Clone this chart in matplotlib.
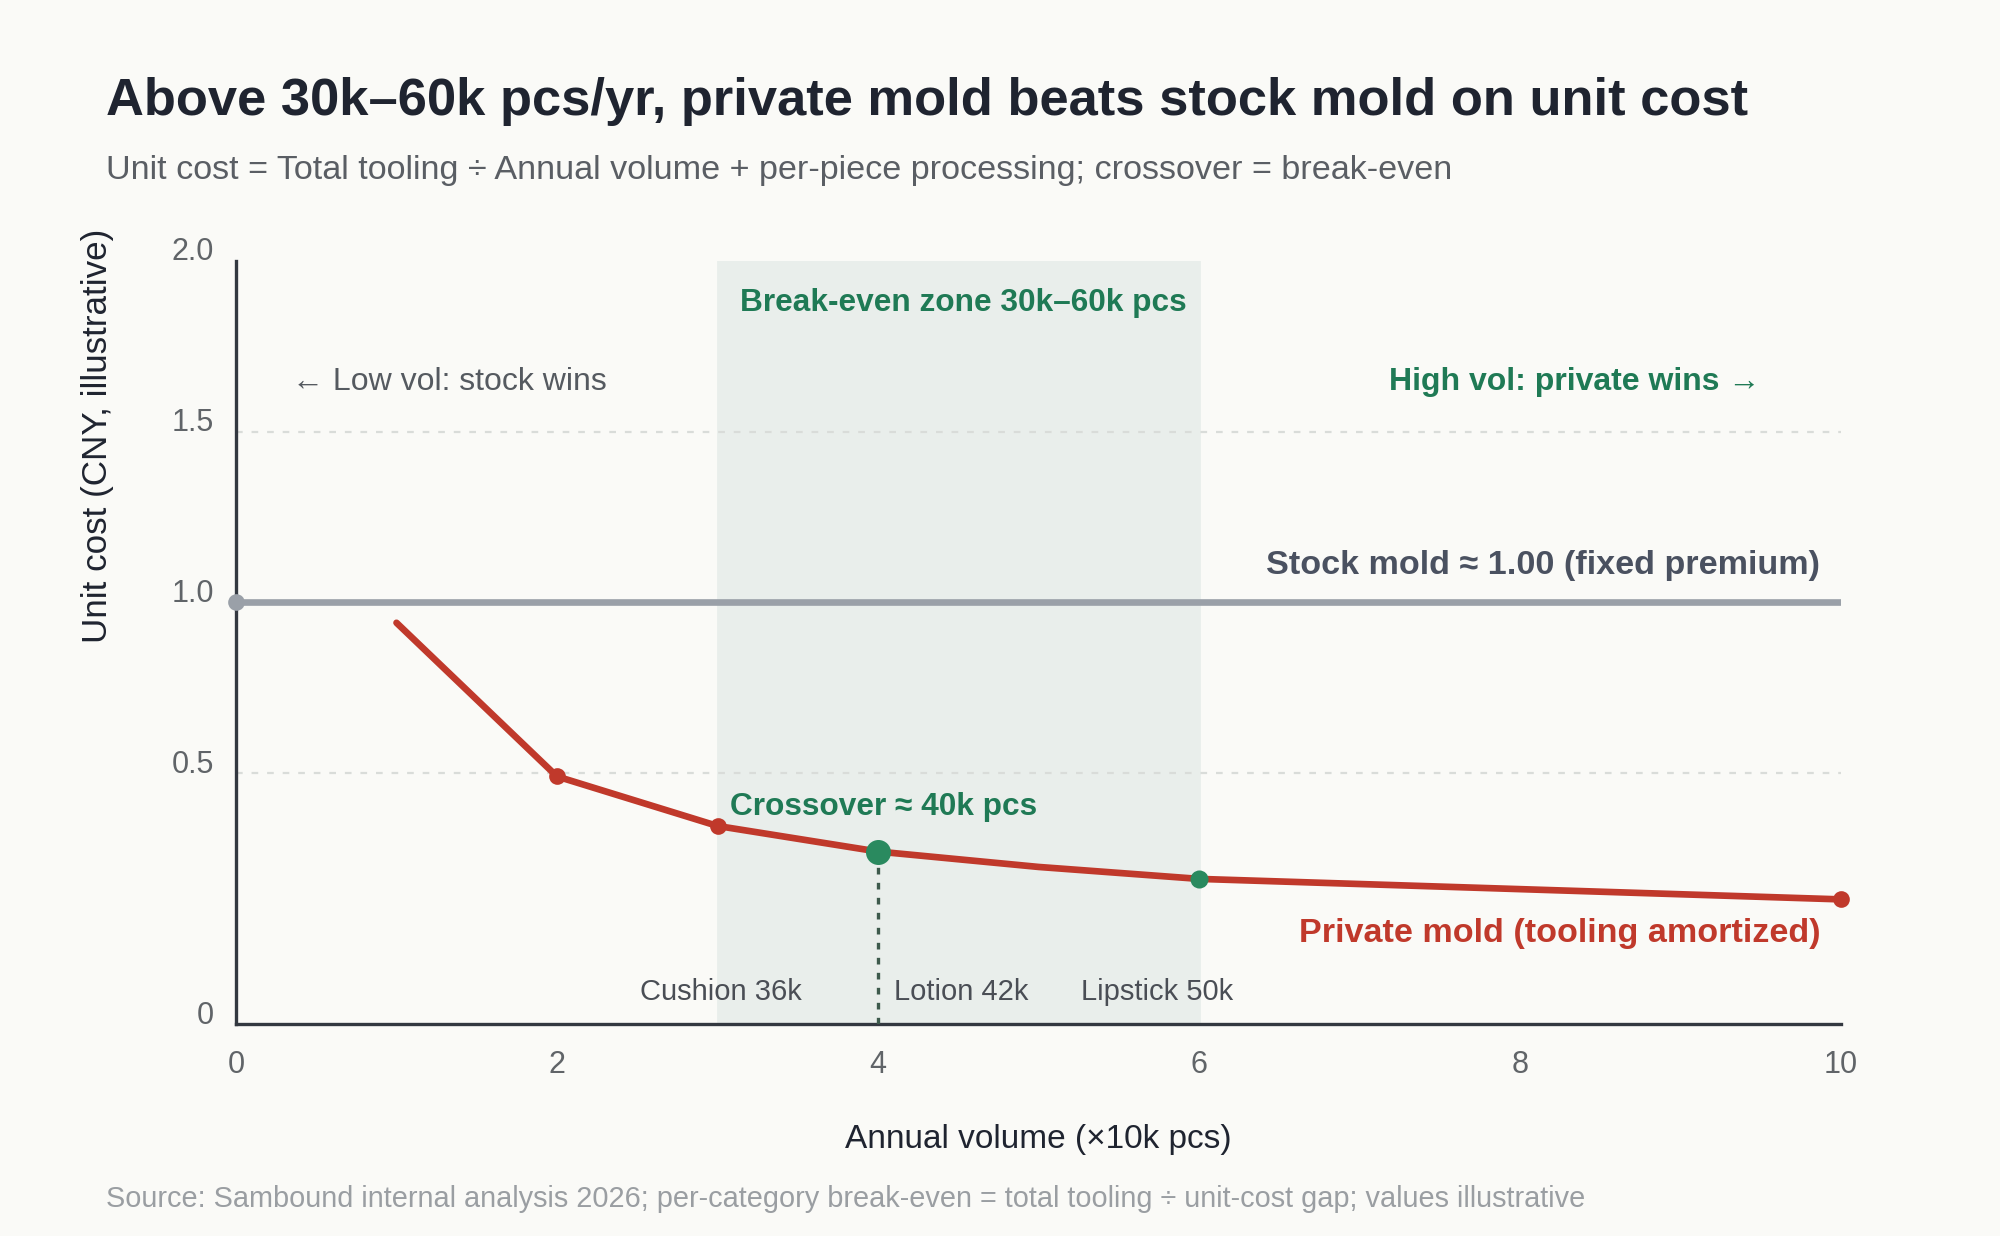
import numpy as np
import matplotlib.pyplot as plt
import matplotlib.transforms as mtransforms

plt.rcParams['font.family'] = ['Liberation Sans', 'DejaVu Sans']

# data
volume = [1, 2, 3, 4, 5, 6, 8, 10]            # x10k pcs / yr
private_cost = [0.94, 0.49, 0.345, 0.27, 0.225, 0.19, 0.16, 0.13]
stock_volume = [0, 10]
stock_cost = [1.0, 1.0]
zone = [3, 6]                                  # break-even zone
crossover_x = 4
crossover_y = 0.27
red_marker_x = [2, 3, 10]
green_marker_x = [6]
categories = ['Cushion 36k', 'Lotion 42k', 'Lipstick 50k']
category_label_x = [3.02, 4.52, 5.74]

y_bottom = -0.235
y_ticks = [y_bottom, 0.5, 1.0, 1.5, 2.0]
y_tick_labels = ['0', '0.5', '1.0', '1.5', '2.0']
x_ticks = [0, 2, 4, 6, 8, 10]

bg = '#fafaf7'
green = '#1f7a55'
red = '#c0392b'
grey_line = '#9aa0a8'
dark = '#1f2430'

fig = plt.figure(figsize=(10, 6.18), dpi=200, facecolor=bg)
ax = fig.add_axes([0.118, 0.1715, 0.8025, 0.6175])
ax.set_facecolor(bg)

ax.set_xlim(0, 10)
ax.set_ylim(y_bottom, 2.0)

# break-even zone
ax.axvspan(zone[0], zone[1], color='#e9eeeb', zorder=0)

# grid lines
for g in [0.5, 1.5]:
    ax.axhline(g, color='#d9dcd9', lw=0.8, ls=(0, (3, 4)), zorder=1)

# stock mold line
ax.plot(stock_volume, stock_cost, color=grey_line, lw=2.4, zorder=3)
ax.plot([stock_volume[0]], [stock_cost[0]], 'o', color=grey_line, ms=5, zorder=4, clip_on=False)

# private mold curve
ax.plot(volume, private_cost, color=red, lw=2.4, zorder=4, solid_capstyle='round')
lookup = dict(zip(volume, private_cost))
ax.plot(red_marker_x, [lookup[v] for v in red_marker_x], 'o', color=red, ms=5, zorder=5, clip_on=False)
ax.plot(green_marker_x, [lookup[v] for v in green_marker_x], 'o', color='#2a8a5f', ms=5.5, zorder=5)
ax.plot([crossover_x], [crossover_y], 'o', color='#2a8a5f', ms=8, zorder=6)
ax.plot([crossover_x, crossover_x], [y_bottom, crossover_y], color='#3d5a4c', lw=1.2,
        ls=(0, (2, 2.5)), zorder=3)

# annotations
ax.text(4.53, 1.877, 'Break-even zone 30k\u201360k pcs', color=green, fontsize=11.4,
        fontweight='bold', ha='center', va='center')
ax.text(0.35, 1.645, '\u2190 Low vol: stock wins', color='#555a60', fontsize=11.5,
        ha='left', va='center')
ax.text(9.5, 1.645, 'High vol: private wins \u2192', color=green, fontsize=11.5,
        fontweight='bold', ha='right', va='center')
ax.text(9.87, 1.108, 'Stock mold \u2248 1.00 (fixed premium)', color='#4a5160', fontsize=12.3,
        fontweight='bold', ha='right', va='center')
ax.text(3.08, 0.40, 'Crossover \u2248 40k pcs', color=green, fontsize=11.4,
        fontweight='bold', ha='left', va='center')
ax.text(9.87, 0.03, 'Private mold (tooling amortized)', color=red, fontsize=12.3,
        fontweight='bold', ha='right', va='center')
for lab, lx in zip(categories, category_label_x):
    ax.text(lx, -0.142, lab, color='#4a4e55', fontsize=10.5, ha='center', va='center')

# axes styling
for s in ['top', 'right']:
    ax.spines[s].set_visible(False)
for s in ['left', 'bottom']:
    ax.spines[s].set_color('#333840')
    ax.spines[s].set_linewidth(1.2)
ax.set_yticks(y_ticks)
ax.set_yticklabels(y_tick_labels)
ax.set_xticks(x_ticks)
ax.tick_params(axis='both', length=0, labelsize=11, labelcolor='#606468')
ax.tick_params(axis='x', pad=9.3)
ax.tick_params(axis='y', pad=8)
offset = mtransforms.ScaledTranslation(0, 4.3 / 72, fig.dpi_scale_trans)
for lbl in ax.get_yticklabels():
    lbl.set_transform(lbl.get_transform() + offset)

ax.set_xlabel('Annual volume (\u00d710k pcs)', fontsize=12, color=dark, labelpad=16)
fig.text(0.049, 0.647, 'Unit cost (CNY, illustrative)', rotation=90, fontsize=12.6,
         color=dark, ha='center', va='center')

fig.text(0.053, 0.918, 'Above 30k\u201360k pcs/yr, private mold beats stock mold on unit cost',
         fontsize=18.9, fontweight='bold', color=dark, ha='left', va='center')
fig.text(0.053, 0.862, 'Unit cost = Total tooling \u00f7 Annual volume + per-piece processing; crossover = break-even',
         fontsize=12.3, color='#5a5e64', ha='left', va='center')
fig.text(0.053, 0.030, 'Source: Sambound internal analysis 2026; per-category break-even = total tooling \u00f7 unit-cost gap; values illustrative',
         fontsize=10.4, color='#9a9ea2', ha='left', va='center')

fig.savefig('out.png', dpi=200, facecolor=bg)
